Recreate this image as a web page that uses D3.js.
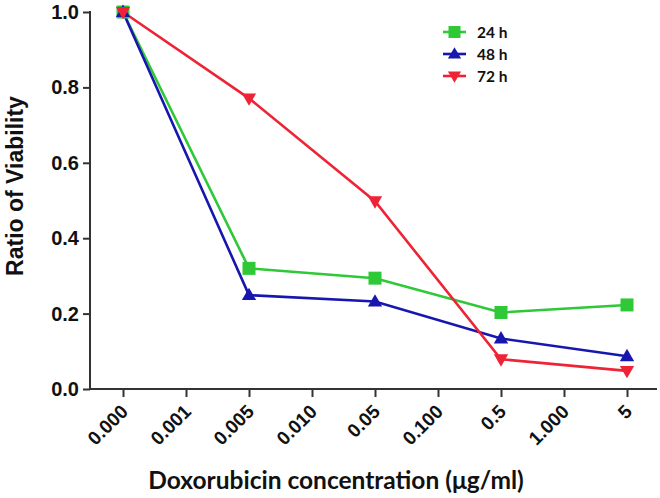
<!DOCTYPE html>
<html>
<head>
<meta charset="utf-8">
<script src="https://cdn.jsdelivr.net/npm/d3@7/dist/d3.min.js"></script>
<style>
  html, body { margin: 0; padding: 0; background: #fff; }
  svg { display: block; }
</style>
</head>
<body>
<svg id="chart" width="660" height="498"></svg>
<script>
const categories = ["0.000", "0.001", "0.005", "0.010", "0.05", "0.100", "0.5", "1.000", "5"];
const measuredAt = ["0.000", "0.005", "0.05", "0.5", "5"];
const values24h = [1.0, 0.32, 0.294, 0.203, 0.223];
const values48h = [1.0, 0.249, 0.232, 0.134, 0.087];
const values72h = [1.0, 0.771, 0.498, 0.079, 0.048];
const seriesNames = ["24 h", "48 h", "72 h"];
const yTicks = [0.0, 0.2, 0.4, 0.6, 0.8, 1.0];

const series = [
  { name: seriesNames[0], values: values24h, color: "#2fc837", symbol: "square" },
  { name: seriesNames[1], values: values48h, color: "#1717b0", symbol: "up" },
  { name: seriesNames[2], values: values72h, color: "#ee2436", symbol: "down" }
];

const svg = d3.select("#chart");
const axisColor = "#333";
const axisLeftX = 90, axisRightX = 657;
const yTop = 12, yBottom = 389;
const tickFont = "'Liberation Sans', Arial, sans-serif";

const x = d3.scalePoint().domain(categories).range([123, 627]).padding(0);
const y = d3.scaleLinear().domain([0, 1]).range([yBottom, yTop]);

// Y axis
const yAxis = svg.append("g")
  .attr("transform", `translate(${axisLeftX},0)`)
  .call(d3.axisLeft(y).tickValues(yTicks).tickFormat(d3.format(".1f")).tickSize(7).tickPadding(4));
yAxis.select(".domain").remove();
yAxis.selectAll(".tick line").attr("stroke", axisColor).attr("stroke-width", 2);
yAxis.selectAll(".tick text")
  .attr("font-family", tickFont)
  .attr("font-weight", "bold").attr("font-size", 20).attr("fill", "#111");
svg.append("line").attr("x1", axisLeftX).attr("x2", axisLeftX)
  .attr("y1", yTop - 1).attr("y2", yBottom + 1)
  .attr("stroke", axisColor).attr("stroke-width", 2);

// X axis
const xAxis = svg.append("g")
  .attr("transform", `translate(0,${yBottom})`)
  .call(d3.axisBottom(x).tickSize(8).tickPadding(4));
xAxis.select(".domain").remove();
xAxis.selectAll(".tick line").attr("stroke", axisColor).attr("stroke-width", 2);
xAxis.selectAll(".tick text")
  .attr("font-family", tickFont)
  .attr("font-weight", "bold").attr("font-size", 19).attr("fill", "#111")
  .attr("text-anchor", "end")
  .attr("y", 0).attr("dy", "0.35em")
  .attr("transform", "translate(1,19) rotate(-45)");
svg.append("line").attr("x1", axisLeftX - 1).attr("x2", axisRightX)
  .attr("y1", yBottom).attr("y2", yBottom)
  .attr("stroke", axisColor).attr("stroke-width", 2);

// Axis titles
svg.append("text")
  .attr("transform", `translate(23,186) rotate(-90)`)
  .attr("text-anchor", "middle")
  .attr("font-family", tickFont)
  .attr("font-weight", "bold").attr("font-size", 23).attr("fill", "#111")
  .text("Ratio of Viability");

svg.append("text")
  .attr("x", 336).attr("y", 489)
  .attr("text-anchor", "middle")
  .attr("font-family", "Lato, 'Open Sans', sans-serif")
  .attr("font-weight", "bold").attr("font-size", 24.5).attr("fill", "#111")
  .text("Doxorubicin concentration (\u03bcg/ml)");

// Symbols
function drawSymbol(g, s, cx, cy, size) {
  if (s.symbol === "square") {
    g.append("rect").attr("x", cx - size / 2).attr("y", cy - size / 2)
      .attr("width", size).attr("height", size).attr("fill", s.color);
  } else {
    const h = size * 0.95, w = size * 1.1;
    const pts = s.symbol === "up"
      ? [[cx, cy - h * 0.6], [cx - w / 2, cy + h * 0.4], [cx + w / 2, cy + h * 0.4]]
      : [[cx, cy + h * 0.6], [cx - w / 2, cy - h * 0.4], [cx + w / 2, cy - h * 0.4]];
    g.append("polygon").attr("points", pts.map(p => p.join(",")).join(" ")).attr("fill", s.color);
  }
}

const line = d3.line().x(d => x(d[0])).y(d => y(d[1]));

series.forEach(s => {
  const pts = measuredAt.map((c, i) => [c, s.values[i]]);
  svg.append("path").datum(pts).attr("d", line)
    .attr("fill", "none").attr("stroke", s.color).attr("stroke-width", 2.6);
});
series.forEach(s => {
  const g = svg.append("g");
  measuredAt.forEach((c, i) => drawSymbol(g, s, x(c), y(s.values[i]), 13));
});

// Legend
const legendY = [32, 54, 76];
series.forEach((s, i) => {
  const g = svg.append("g");
  const ly = legendY[i];
  g.append("line").attr("x1", 443).attr("x2", 466).attr("y1", ly).attr("y2", ly)
    .attr("stroke", s.color).attr("stroke-width", 2.6);
  drawSymbol(g, s, 454.5, ly, 12);
  g.append("text").attr("x", 477).attr("y", ly).attr("dy", "0.36em")
    .attr("font-family", "Lato, 'Open Sans', sans-serif")
    .attr("font-weight", "bold").attr("font-size", 15.5).attr("fill", "#111")
    .text(s.name);
});
</script>
</body>
</html>
